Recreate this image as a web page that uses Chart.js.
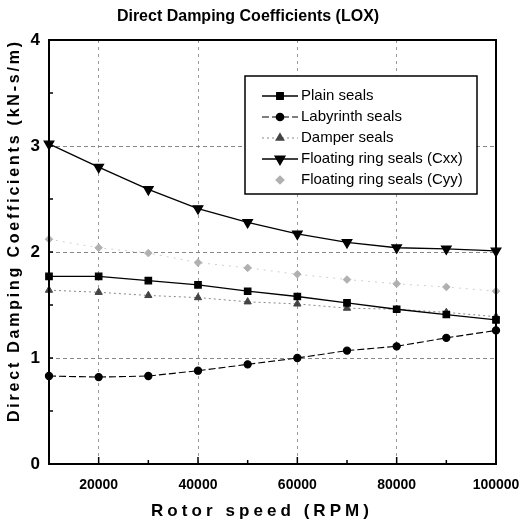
<!DOCTYPE html>
<html>
<head>
<meta charset="utf-8">
<script src="https://cdn.jsdelivr.net/npm/chart.js@4.4.1/dist/chart.umd.min.js"></script>
<style>
  html, body { margin: 0; padding: 0; background: #fff; }
  #wrap { width: 522px; height: 526px; }
</style>
</head>
<body>
<div id="wrap"><canvas id="chart"></canvas></div>
<script>
// rotor speed (RPM)
var speeds = [10000, 20000, 30000, 40000, 50000, 60000, 70000, 80000, 90000, 100000];
// direct damping, kN-s/m
var plainSeals     = [1.77, 1.77, 1.73, 1.69, 1.63, 1.58, 1.52, 1.46, 1.41, 1.36];
var labyrinthSeals = [0.83, 0.82, 0.83, 0.88, 0.94, 1.00, 1.07, 1.11, 1.19, 1.26];
var damperSeals    = [1.64, 1.62, 1.59, 1.57, 1.53, 1.51, 1.47, 1.46, 1.43, 1.39];
var floatingCxx    = [3.02, 2.80, 2.59, 2.41, 2.28, 2.17, 2.09, 2.04, 2.03, 2.01];
var floatingCyy    = [2.12, 2.04, 1.99, 1.90, 1.85, 1.79, 1.74, 1.70, 1.67, 1.63];
var xTickLabels = [20000, 40000, 60000, 80000, 100000];
var yTickLabels = [0, 1, 2, 3, 4];

var sans = '"Liberation Sans", Arial, sans-serif';

function pts(arr) {
    return speeds.map(function(s, i) { return {x: s, y: arr[i]}; });
}

var series = [
    {label: 'Plain seals', data: plainSeals, color: '#000', line: '#000', dash: [], style: 'rect', radius: 4.5, rot: 0, width: 1.3},
    {label: 'Labyrinth seals', data: labyrinthSeals, color: '#000', line: '#000', dash: [7, 3], style: 'circle', radius: 3.6, rot: 0, width: 1.1},
    {label: 'Damper seals', data: damperSeals, color: '#444', line: '#888', dash: [2, 3], style: 'triangle', radius: 4.2, rot: 0, width: 1},
    {label: 'Floating ring seals (Cxx)', data: floatingCxx, color: '#000', line: '#000', dash: [], style: 'triangle', radius: 5.5, rot: 180, width: 1.3},
    {label: 'Floating ring seals (Cyy)', data: floatingCyy, color: '#b0b0b0', line: '#cfcfcf', dash: [2, 5], style: 'rectRot', radius: 3.8, rot: 0, width: 1}
];

// draw text spread out to a given width
function spacedText(ctx, text, x, y, width) {
    ctx.letterSpacing = '0px';
    var w = ctx.measureText(text).width;
    var sp = (width - w) / (text.length - 1);
    ctx.letterSpacing = sp + 'px';
    ctx.textAlign = 'left';
    ctx.fillText(text, x - width / 2, y);
    ctx.letterSpacing = '0px';
}

// frame, inward ticks, axis titles and legend box
var framePlugin = {
    id: 'frame',
    afterDatasetsDraw: function(chart) {
        var ctx = chart.ctx;
        var a = chart.chartArea;
        var xs = chart.scales.x, ys = chart.scales.y;
        ctx.save();
        ctx.strokeStyle = '#000';
        ctx.lineWidth = 1.5;
        for (var v = 20000; v < 100000; v += 10000) {
            var px = xs.getPixelForValue(v);
            ctx.beginPath(); ctx.moveTo(px, a.bottom); ctx.lineTo(px, a.bottom - (v % 20000 == 0 ? 7 : 4)); ctx.stroke();
        }
        for (var w = 0.5; w < 4; w += 0.5) {
            var py = ys.getPixelForValue(w);
            ctx.beginPath(); ctx.moveTo(a.left, py); ctx.lineTo(a.left + 4, py); ctx.stroke();
        }

        // legend
        var lx = a.left + 196, ly = a.top + 36, lw = 232, lh = 118;
        ctx.fillStyle = '#fff';
        ctx.fillRect(lx, ly, lw, lh);
        ctx.lineWidth = 1.5;
        ctx.strokeRect(lx, ly, lw, lh);
        ctx.font = '15px ' + sans;
        ctx.textBaseline = 'middle';
        ctx.textAlign = 'left';
        for (var i = 0; i < series.length; i++) {
            var s = series[i];
            var ry = ly + 20 + i * 21;
            if (i != 4) {
                ctx.save();
                ctx.strokeStyle = s.line;
                ctx.lineWidth = s.width;
                ctx.setLineDash(s.dash);
                ctx.beginPath(); ctx.moveTo(lx + 17, ry); ctx.lineTo(lx + 53, ry); ctx.stroke();
                ctx.restore();
            }
            ctx.fillStyle = s.color;
            ctx.strokeStyle = s.color;
            Chart.helpers.drawPoint(ctx, {pointStyle: s.style, radius: s.radius, rotation: s.rot, borderWidth: 1}, lx + 35, ry);
            ctx.fillStyle = '#000';
            ctx.fillText(s.label, lx + 56, ry);
        }

        // plot border
        ctx.lineWidth = 2;
        ctx.strokeStyle = '#000';
        ctx.strokeRect(a.left, a.top, a.right - a.left, a.bottom - a.top);

        // axis titles
        ctx.fillStyle = '#000';
        ctx.textBaseline = 'middle';
        ctx.font = 'bold 17px ' + sans;
        spacedText(ctx, 'Rotor speed (RPM)', 260, 511, 218);
        ctx.save();
        ctx.translate(15, 232);
        ctx.rotate(-Math.PI / 2);
        ctx.font = 'bold 16px ' + sans;
        spacedText(ctx, 'Direct Damping Coefficients (kN-s/m)', 0, 0, 380);
        ctx.restore();
        ctx.restore();
    }
};

var datasets = series.map(function(s) {
    return {
        label: s.label,
        data: pts(s.data),
        borderColor: s.line,
        borderWidth: s.width,
        borderDash: s.dash,
        backgroundColor: s.color,
        pointBackgroundColor: s.color,
        pointBorderColor: s.color,
        pointStyle: s.style,
        pointRadius: s.radius,
        pointRotation: s.rot,
        tension: 0,
        clip: false
    };
});

new Chart(document.getElementById('chart'), {
    type: 'line',
    data: {datasets: datasets},
    options: {
        responsive: true,
        maintainAspectRatio: false,
        animation: false,
        layout: {padding: {left: 0, right: 26, top: 0, bottom: 0}},
        plugins: {
            legend: {display: false},
            tooltip: {enabled: false},
            title: {
                display: true,
                text: 'Direct Damping Coefficients (LOX)',
                color: '#000',
                font: {family: sans, size: 16, weight: 'bold', lineHeight: 1.2},
                padding: {top: 7, bottom: 13.8}
            }
        },
        scales: {
            x: {
                type: 'linear',
                min: 10000,
                max: 100000,
                afterFit: function(scale) {
                    scale.height = 62;
                    scale.paddingLeft = 0;
                    scale.paddingRight = 0;
                },
                border: {display: false, dash: [3, 4]},
                grid: {
                    drawTicks: false,
                    color: function(c) {
                        var v = c.tick ? c.tick.value : 0;
                        return (v % 20000 == 0 && v < 100000) ? '#999' : 'rgba(0,0,0,0)';
                    },
                    lineWidth: 1
                },
                ticks: {
                    stepSize: 10000,
                    padding: 13,
                    autoSkip: false,
                    maxRotation: 0,
                    color: '#000',
                    font: {family: sans, size: 14, weight: 'bold'},
                    callback: function(v) { return xTickLabels.indexOf(v) >= 0 ? String(v) : ''; }
                },
                title: {display: false}
            },
            y: {
                min: 0,
                max: 4,
                afterFit: function(scale) {
                    scale.width = 49;
                    scale.paddingTop = 0;
                    scale.paddingBottom = 0;
                },
                border: {display: false, dash: [4, 3]},
                grid: {
                    drawTicks: false,
                    color: function(c) {
                        var v = c.tick ? c.tick.value : 0;
                        return (v == 1 || v == 2 || v == 3) ? '#888' : 'rgba(0,0,0,0)';
                    },
                    lineWidth: 1
                },
                ticks: {
                    stepSize: 0.5,
                    padding: 9,
                    autoSkip: false,
                    color: '#000',
                    font: {family: sans, size: 17, weight: 'bold'},
                    callback: function(v) { return yTickLabels.indexOf(v) >= 0 ? String(v) : ''; }
                },
                title: {display: false}
            }
        }
    },
    plugins: [framePlugin]
});
</script>
</body>
</html>
